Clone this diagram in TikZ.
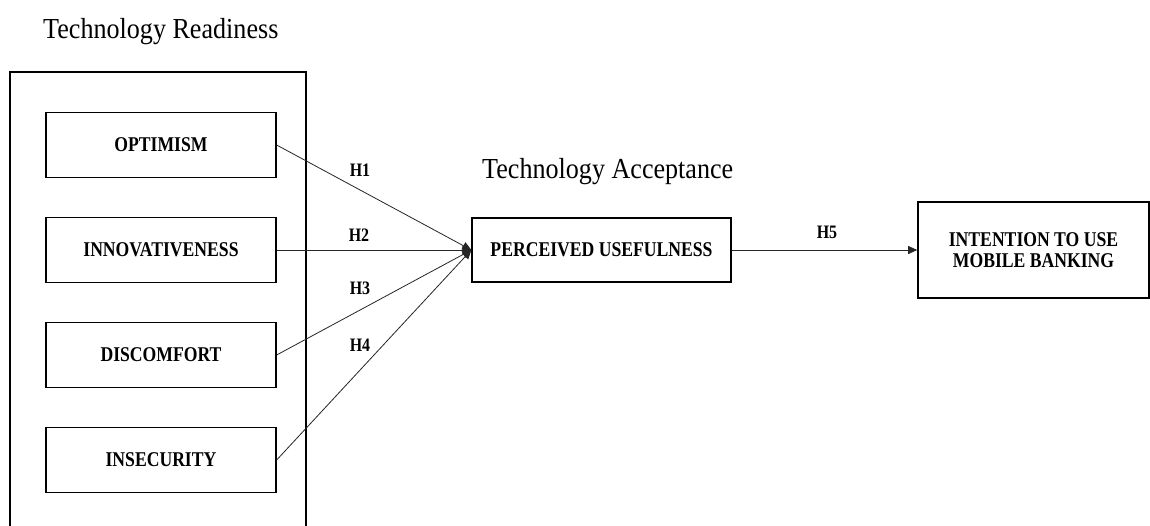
\documentclass[tikz,border=0pt]{standalone}
\usepackage{fontspec}
\setmainfont{Liberation Serif}
\newfontfamily\headserif[FakeStretch=0.9]{Liberation Serif}
\newfontfamily\boxserif[FakeStretch=0.84]{Liberation Serif}
\usetikzlibrary{arrows.meta}

\tikzset{
  construct/.style={draw=black, line width=1.3pt, fill=white, minimum width=230pt,
    minimum height=65pt, inner sep=0pt, font=\boxserif\bfseries\fontsize{21}{22.5}\selectfont,
    align=center},
  heading/.style={font=\headserif\fontsize{29}{32}\selectfont, inner sep=0pt, anchor=base west},
  hyp/.style={font=\boxserif\bfseries\fontsize{19}{20}\selectfont, inner sep=0pt},
  link/.style={draw=black!85, line width=0.8pt, -{Triangle[length=9pt,width=8pt]}},
}

\begin{document}
\begin{tikzpicture}[x=1pt, y=-1pt]
  \clip (0,0) rectangle (1150,525);
  \fill[white] (0,0) rectangle (1150,525);

  % Technology readiness group (open at the bottom)
  \draw[line width=1.2pt] (10,530) -- (10,72) -- (306,72) -- (306,530);
  \node[heading] (trtitle) at (43,38) {Technology Readiness};

  % readiness dimensions
  \node[construct] (opt) at (161,145) {OPTIMISM};
  \node[construct] (inn) at (161,250) {INNOVATIVENESS};
  \node[construct] (dis) at (161,355) {DISCOMFORT};
  \node[construct] (ins) at (161,460) {INSECURITY};

  % acceptance and outcome
  \node[heading] (tatitle) at (482,178) {Technology Acceptance};
  \node[construct, minimum width=259pt, minimum height=64pt] (pu) at (601.5,250) {PERCEIVED USEFULNESS};
  \node[construct, minimum width=231pt, minimum height=96pt, line width=1.6pt] (itu) at (1033.5,250)
    {INTENTION TO USE\\[-2pt]MOBILE BANKING};

  % hypothesised paths
  \draw[link] (opt.east) -- (pu.west);
  \draw[link] (inn.east) -- (pu.west);
  \draw[link] (dis.east) -- (pu.west);
  \draw[link] (ins.east) -- (pu.west);
  \draw[link] (pu.east) -- (itu.west);

  \node[hyp] (h1) at (360,170) {H1};
  \node[hyp] (h2) at (359,235) {H2};
  \node[hyp] (h3) at (360,288) {H3};
  \node[hyp] (h4) at (360,345) {H4};
  \node[hyp] (h5) at (827,232) {H5};
\end{tikzpicture}
\end{document}
